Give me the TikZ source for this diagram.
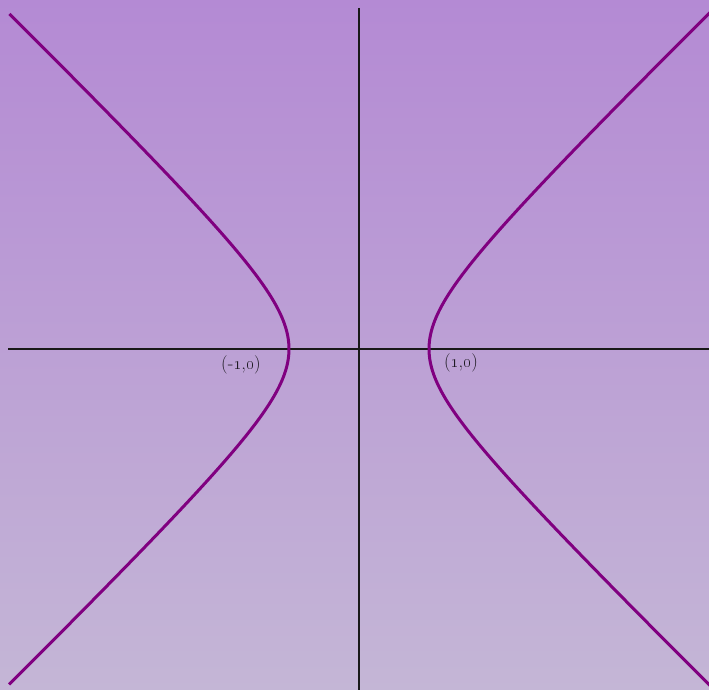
\documentclass[tikz,border=0pt]{standalone}
\definecolor{bgtop}{HTML}{B48AD4}
\definecolor{bgmid}{HTML}{AE9EC6}
\definecolor{bgbot}{HTML}{C4B6D6}
\definecolor{curvepurple}{HTML}{800080}
\definecolor{lbltext}{HTML}{1E1A22}
\begin{document}
\begin{tikzpicture}[x=1pt,y=1pt,
  axisline/.style={line width=2pt, draw=black!90},
  branch/.style={line width=3pt, draw=curvepurple},
  lbl/.style={font=\fontsize{18.5}{21}\selectfont, text=lbltext, inner sep=0pt}]
\useasboundingbox (0,0) rectangle (709,690);
\shade[top color=bgtop, middle color=bgmid, bottom color=bgbot] (0,0) rectangle (709,690);
\clip (0,0) rectangle (709,690);
\coordinate (O) at (359,341);
\coordinate (xl) at (8,341);
\coordinate (xr) at (709,341);
\coordinate (yt) at (359,682);
\coordinate (yb) at (359,0);
\draw[axisline] (xl) -- (xr);
\draw[axisline] (yt) -- (yb);
\draw[branch, shift={(O)}] plot[domain=-2.3:2.3, samples=120, variable=\t] ({70*cosh(\t)},{68.5*sinh(\t)});
\draw[branch, shift={(O)}] plot[domain=-2.292:2.292, samples=120, variable=\t] ({-70*cosh(\t)},{68.5*sinh(\t)});
\node[lbl] (lm) at (241,325) {(-\oldstylenums{1},\oldstylenums{0})};
\node[lbl] (lp) at (461,327) {(\oldstylenums{1},\oldstylenums{0})};
\end{tikzpicture}
\end{document}
